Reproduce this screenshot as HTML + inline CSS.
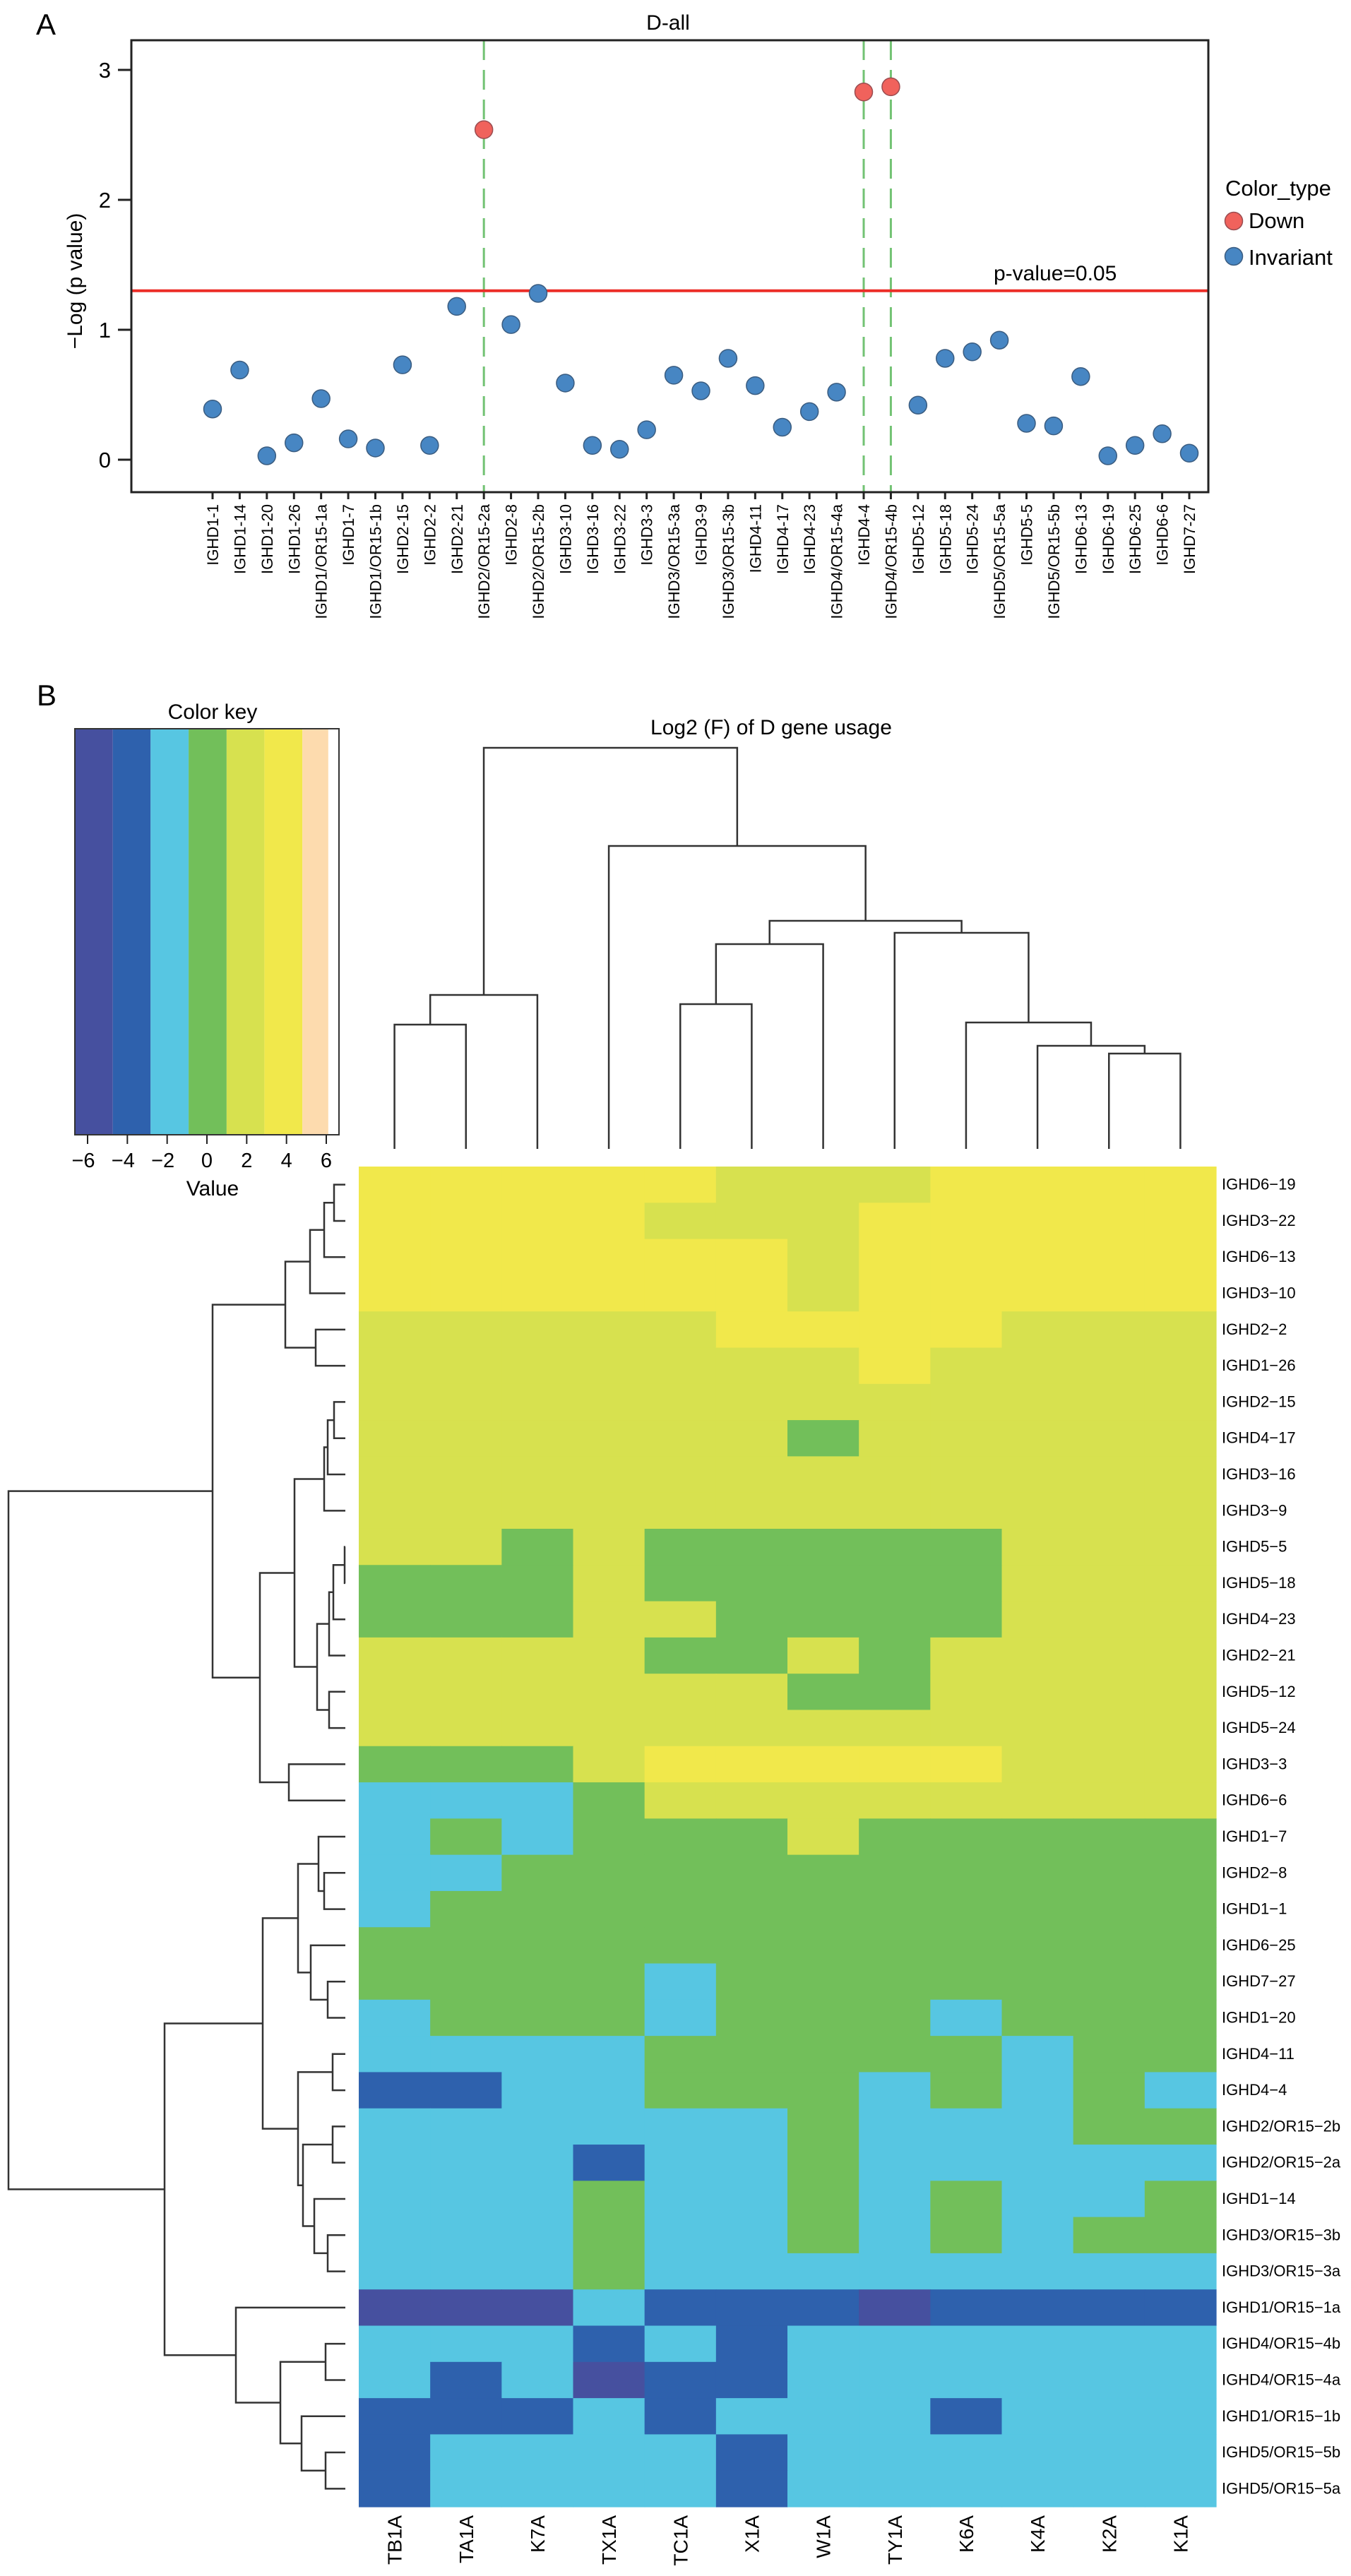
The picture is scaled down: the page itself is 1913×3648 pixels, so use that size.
<!DOCTYPE html>
<html><head><meta charset="utf-8"><style>
html,body{margin:0;padding:0;background:#fff;}
svg{display:block;font-family:"Liberation Sans",Arial,sans-serif;}
</style></head><body>
<svg id="fig" xmlns="http://www.w3.org/2000/svg" width="1913" height="3648" viewBox="0 0 1913 3648">
<rect x="0" y="0" width="1913" height="3648" fill="#fff"/>
<g id="panelA"></g>
<g id="panelB"></g>
</svg>
<script>
// ---------- Panel A data ----------
const genesA = ["IGHD1-1","IGHD1-14","IGHD1-20","IGHD1-26","IGHD1/OR15-1a","IGHD1-7","IGHD1/OR15-1b","IGHD2-15","IGHD2-2","IGHD2-21","IGHD2/OR15-2a","IGHD2-8","IGHD2/OR15-2b","IGHD3-10","IGHD3-16","IGHD3-22","IGHD3-3","IGHD3/OR15-3a","IGHD3-9","IGHD3/OR15-3b","IGHD4-11","IGHD4-17","IGHD4-23","IGHD4/OR15-4a","IGHD4-4","IGHD4/OR15-4b","IGHD5-12","IGHD5-18","IGHD5-24","IGHD5/OR15-5a","IGHD5-5","IGHD5/OR15-5b","IGHD6-13","IGHD6-19","IGHD6-25","IGHD6-6","IGHD7-27"];
const negLogP = [0.39,0.69,0.03,0.13,0.47,0.16,0.09,0.73,0.11,1.18,2.54,1.04,1.28,0.59,0.11,0.08,0.23,0.65,0.53,0.78,0.57,0.25,0.37,0.52,2.83,2.87,0.42,0.78,0.83,0.92,0.28,0.26,0.64,0.03,0.11,0.20,0.05];
const colorType = ["I","I","I","I","I","I","I","I","I","I","D","I","I","I","I","I","I","I","I","I","I","I","I","I","D","D","I","I","I","I","I","I","I","I","I","I","I"];
const yTicksA = [0,1,2,3];
const threshold = 1.3;

// ---------- Panel B data ----------
const rowGenes = ["IGHD6\u221219","IGHD3\u221222","IGHD6\u221213","IGHD3\u221210","IGHD2\u22122","IGHD1\u221226","IGHD2\u221215","IGHD4\u221217","IGHD3\u221216","IGHD3\u22129","IGHD5\u22125","IGHD5\u221218","IGHD4\u221223","IGHD2\u221221","IGHD5\u221212","IGHD5\u221224","IGHD3\u22123","IGHD6\u22126","IGHD1\u22127","IGHD2\u22128","IGHD1\u22121","IGHD6\u221225","IGHD7\u221227","IGHD1\u221220","IGHD4\u221211","IGHD4\u22124","IGHD2/OR15\u22122b","IGHD2/OR15\u22122a","IGHD1\u221214","IGHD3/OR15\u22123b","IGHD3/OR15\u22123a","IGHD1/OR15\u22121a","IGHD4/OR15\u22124b","IGHD4/OR15\u22124a","IGHD1/OR15\u22121b","IGHD5/OR15\u22125b","IGHD5/OR15\u22125a"];
const samples = ["TB1A","TA1A","K7A","TX1A","TC1A","X1A","W1A","TY1A","K6A","K4A","K2A","K1A"];
// values (log2 F) per row
const P=-5.6,B=-3.7,L=-1.8,G=0.1,Y=2,W=3.9;
const heat = [
[W,W,W,W,W,Y,Y,Y,W,W,W,W],
[W,W,W,W,Y,Y,Y,W,W,W,W,W],
[W,W,W,W,W,W,Y,W,W,W,W,W],
[W,W,W,W,W,W,Y,W,W,W,W,W],
[Y,Y,Y,Y,Y,W,W,W,W,Y,Y,Y],
[Y,Y,Y,Y,Y,Y,Y,W,Y,Y,Y,Y],
[Y,Y,Y,Y,Y,Y,Y,Y,Y,Y,Y,Y],
[Y,Y,Y,Y,Y,Y,G,Y,Y,Y,Y,Y],
[Y,Y,Y,Y,Y,Y,Y,Y,Y,Y,Y,Y],
[Y,Y,Y,Y,Y,Y,Y,Y,Y,Y,Y,Y],
[Y,Y,G,Y,G,G,G,G,G,Y,Y,Y],
[G,G,G,Y,G,G,G,G,G,Y,Y,Y],
[G,G,G,Y,Y,G,G,G,G,Y,Y,Y],
[Y,Y,Y,Y,G,G,Y,G,Y,Y,Y,Y],
[Y,Y,Y,Y,Y,Y,G,G,Y,Y,Y,Y],
[Y,Y,Y,Y,Y,Y,Y,Y,Y,Y,Y,Y],
[G,G,G,Y,W,W,W,W,W,Y,Y,Y],
[L,L,L,G,Y,Y,Y,Y,Y,Y,Y,Y],
[L,G,L,G,G,G,Y,G,G,G,G,G],
[L,L,G,G,G,G,G,G,G,G,G,G],
[L,G,G,G,G,G,G,G,G,G,G,G],
[G,G,G,G,G,G,G,G,G,G,G,G],
[G,G,G,G,L,G,G,G,G,G,G,G],
[L,G,G,G,L,G,G,G,L,G,G,G],
[L,L,L,L,G,G,G,G,G,L,G,G],
[B,B,L,L,G,G,G,L,G,L,G,L],
[L,L,L,L,L,L,G,L,L,L,G,G],
[L,L,L,B,L,L,G,L,L,L,L,L],
[L,L,L,G,L,L,G,L,G,L,L,G],
[L,L,L,G,L,L,G,L,G,L,G,G],
[L,L,L,G,L,L,L,L,L,L,L,L],
[P,P,P,L,B,B,B,P,B,B,B,B],
[L,L,L,B,L,B,L,L,L,L,L,L],
[L,B,L,P,B,B,L,L,L,L,L,L],
[B,B,B,L,B,L,L,L,B,L,L,L],
[B,L,L,L,L,B,L,L,L,L,L,L],
[B,L,L,L,L,B,L,L,L,L,L,L]
];
const keyBreaks = [-6.64,-4.73,-2.83,-0.92,0.99,2.89,4.8,6.1];
const keyColors = ["#46509F","#2E61AD","#57C6E2","#72BF5A","#D7E14F","#F1E84B","#FDDBAE"];
const keyTicks = [-6,-4,-2,0,2,4,6];
// row dendrogram merges: [a, b, height]; a/b >=0 leaf, <0 merge index -(k+1)
const rowMerges = [[0,1,16],[-1,2,30],[-2,3,50],[4,5,42],[-3,-4,85],[6,7,16],[-6,8,25],[-7,9,30],[10,11,1],[-9,12,17],[-10,13,23],[14,15,23],[-11,-12,40],[-8,-13,72],[16,17,80],[-14,-15,121],[-5,-16,188],[19,20,30],[18,-18,38],[22,23,25],[21,-20,49],[-19,-21,67],[24,25,18],[26,27,18],[29,30,25],[28,-25,44],[-24,-26,60],[-23,-27,67],[-22,-28,117],[32,33,28],[35,36,28],[34,-31,62],[-30,-32,92],[31,-33,155],[-29,-34,256],[-17,-35,477]];
const colMerges = [[0,1,176],[-1,2,218],[4,5,205],[-3,6,290],[10,11,135],[9,-5,146],[8,-6,179],[7,-7,306],[-4,-8,323],[3,-9,429],[-2,-10,568]];

const NS="http://www.w3.org/2000/svg";
function mk(parent,tag,attrs,text){const e=document.createElementNS(NS,tag);for(const k in attrs)e.setAttribute(k,attrs[k]);if(text!==undefined)e.textContent=text;parent.appendChild(e);return e;}

// ---------- Panel A ----------
const A=document.getElementById('panelA');
const box={l:186,r:1711,t:57,b:697};
const xA=i=>301+i*(1684-301)/(genesA.length-1);
const yA=v=>651-v*184;
let t;
t=mk(A,'text',{x:51,y:49,'font-size':42},'A');


t=mk(A,'text',{x:946,y:42,'font-size':30,'text-anchor':'middle'},'D-all');


// green dashed lines
genesA.forEach((g,i)=>{ if(colorType[i]==='D'){
  const l=mk(A,'line',{x1:xA(i),x2:xA(i),y1:box.t,y2:box.b,stroke:'#72C273','stroke-width':3,'stroke-dasharray':'28 14'});
  
  
}});
// threshold line
t=mk(A,'line',{x1:box.l,x2:box.r,y1:yA(threshold),y2:yA(threshold),stroke:'#EC2D27','stroke-width':4});


t=mk(A,'text',{x:1407,y:397,'font-size':30},'p-value=0.05');


// box
t=mk(A,'rect',{x:box.l,y:box.t,width:box.r-box.l,height:box.b-box.t,fill:'none',stroke:'#222','stroke-width':3});


// y ticks
yTicksA.forEach(v=>{
  const l=mk(A,'line',{x1:167,x2:box.l,y1:yA(v),y2:yA(v),stroke:'#222','stroke-width':3});
  
  
  const tx=mk(A,'text',{x:157,y:yA(v)+11,'font-size':31,'text-anchor':'end'},String(v));
  
  
});
t=mk(A,'text',{x:0,y:0,'font-size':30,'text-anchor':'middle',transform:'translate(116,398) rotate(-90)'},'\u2212Log (p value)');


// x ticks + labels
genesA.forEach((g,i)=>{
  const l=mk(A,'line',{x1:xA(i),x2:xA(i),y1:box.b,y2:box.b+10,stroke:'#222','stroke-width':3});
  
  
  const tx=mk(A,'text',{x:0,y:0,'font-size':22,'text-anchor':'end',transform:`translate(${xA(i)+8},714) rotate(-90)`},g);
  
  
});
// points
genesA.forEach((g,i)=>{
  const d=colorType[i]==='D';
  const c=mk(A,'circle',{cx:xA(i),cy:yA(negLogP[i]),r:12.5,fill:d?'#F0625C':'#4786C3',stroke:d?'#9A4C50':'#3A5C80','stroke-width':1.5});
  
  
});
// legend
t=mk(A,'text',{x:1735,y:277,'font-size':31},'Color_type');


[['Down','#F0625C','#9A4C50',313,323],['Invariant','#4786C3','#3A5C80',363,375]].forEach(e=>{
  const c=mk(A,'circle',{cx:1747,cy:e[3],r:12.5,fill:e[1],stroke:e[2],'stroke-width':1.5});
  
  
  const tx=mk(A,'text',{x:1768,y:e[4],'font-size':31},e[0]);
  
  
});

// ---------- Panel B ----------
const Bp=document.getElementById('panelB');
t=mk(Bp,'text',{x:52,y:999,'font-size':42},'B');


// color key
const kx=v=>124+(v+6)*(462-124)/12;
t=mk(Bp,'text',{x:301,y:1018,'font-size':30,'text-anchor':'middle'},'Color key');


keyColors.forEach((c,i)=>{
  const r=mk(Bp,'rect',{x:kx(keyBreaks[i]),y:1032,width:kx(keyBreaks[i+1])-kx(keyBreaks[i]),height:575,fill:c});
  
  
});
t=mk(Bp,'rect',{x:106,y:1032,width:374,height:575,fill:'none',stroke:'#333','stroke-width':2});


keyTicks.forEach(v=>{
  const l=mk(Bp,'line',{x1:kx(v),x2:kx(v),y1:1607,y2:1620,stroke:'#222','stroke-width':2});
  
  
  const tx=mk(Bp,'text',{x:kx(v)+(v<0?-6:0),y:1653,'font-size':29,'text-anchor':'middle'},v<0?'\u2212'+(-v):String(v));
  
  
});
t=mk(Bp,'text',{x:301,y:1693,'font-size':30,'text-anchor':'middle'},'Value');


t=mk(Bp,'text',{x:1092,y:1040,'font-size':30,'text-anchor':'middle'},'Log2 (F) of D gene usage');



// heatmap
const HL=508,HR=1722,HT=1652,HB=3550;
const cw=(HR-HL)/samples.length, rh=(HB-HT)/rowGenes.length;
const cx=j=>HL+cw*(j+0.5), cy=i=>HT+rh*(i+0.5);
function colorOf(v){for(let k=0;k<keyColors.length;k++){if(v<keyBreaks[k+1])return keyColors[k];}return keyColors[keyColors.length-1];}
heat.forEach((row,i)=>row.forEach((v,j)=>{
  const r=mk(Bp,'rect',{x:HL+cw*j,y:HT+rh*i,width:cw+0.6,height:rh+0.6,fill:colorOf(v)});
  
  
}));
rowGenes.forEach((g,i)=>{
  const tx=mk(Bp,'text',{x:1730,y:cy(i)+7,'font-size':22},g);
  
  
});
samples.forEach((s,j)=>{
  const tx=mk(Bp,'text',{x:0,y:0,'font-size':28,'text-anchor':'end',transform:`translate(${cx(j)+10},3562) rotate(-90)`},s);
  
  
});

// dendrograms
function buildDendro(merges,leafPos){
  const pos=[],hgt=[];
  const get=c=>c>=0?[leafPos(c),0]:[pos[-c-1],hgt[-c-1]];
  const segs=[];
  merges.forEach((m,k)=>{
    const a=get(m[0]),b=get(m[1]);
    pos[k]=(a[0]+b[0])/2;hgt[k]=m[2];
    segs.push([a[0],a[1],b[0],b[1],m[2]]);
  });
  return segs;
}
const rowBase=489, rowScale=1;
buildDendro(rowMerges,cy).forEach(s=>{
  const [p1,h1,p2,h2,h]=s;
  const X=v=>rowBase-v*rowScale;
  const p=mk(Bp,'path',{d:`M${X(h1)},${p1}H${X(h)}V${p2}H${X(h2)}`,fill:'none',stroke:'#333','stroke-width':2.5});
  
  
});
const colBase=1627, colScale=1;
buildDendro(colMerges,cx).forEach(s=>{
  const [p1,h1,p2,h2,h]=s;
  const Yc=v=>colBase-v*colScale;
  const p=mk(Bp,'path',{d:`M${p1},${Yc(h1)}V${Yc(h)}H${p2}V${Yc(h2)}`,fill:'none',stroke:'#333','stroke-width':2.5});
  
  
});
</script>
</body></html>
